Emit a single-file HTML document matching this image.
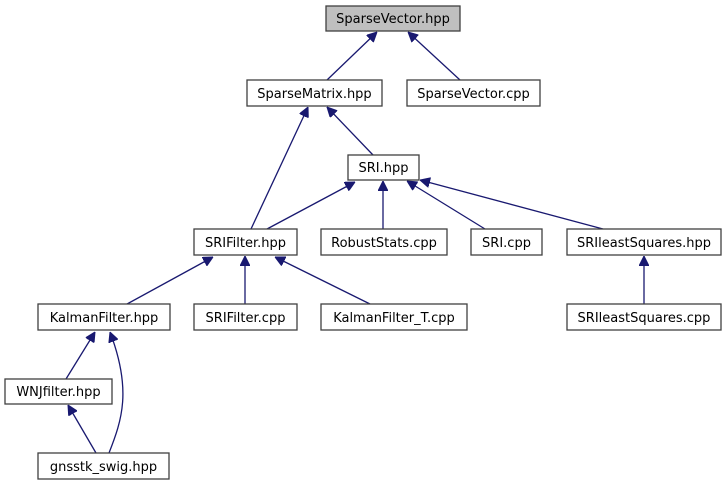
<!DOCTYPE html>
<html><head><meta charset="utf-8"><style>
html,body{margin:0;padding:0;background:#fff;}
svg{display:block;}
text{font-family:"DejaVu Sans","Liberation Sans",sans-serif;font-size:13px;fill:#000;}
</style></head><body>
<svg width="727" height="485" viewBox="0 0 727 485" xmlns="http://www.w3.org/2000/svg">
<defs>
<marker id="a" viewBox="0 0 10 10" refX="10" refY="5" markerWidth="10" markerHeight="10" markerUnits="userSpaceOnUse" orient="auto">
<path d="M0,0 L10,5 L0,10 z" fill="#191970" stroke="#191970"/>
</marker>
</defs>
<g stroke="#191970" stroke-width="1.3" fill="none" marker-end="url(#a)">
<line x1="327" y1="80" x2="377" y2="32"/>
<line x1="460" y1="80" x2="408" y2="32"/>
<line x1="251" y1="229" x2="308" y2="107"/>
<line x1="373" y1="155" x2="327" y2="107"/>
<line x1="267" y1="229" x2="355" y2="182"/>
<line x1="383" y1="229" x2="383" y2="181"/>
<line x1="485" y1="229" x2="407" y2="181"/>
<line x1="603" y1="229" x2="420" y2="180"/>
<line x1="127" y1="304" x2="213" y2="257"/>
<line x1="245" y1="304" x2="245" y2="256"/>
<line x1="370" y1="304" x2="275" y2="257"/>
<line x1="644" y1="304" x2="644" y2="256"/>
<line x1="66" y1="379" x2="95" y2="332"/>
<path d="M109,453 C122,420 132,390 110,332"/>
<line x1="96" y1="453" x2="68" y2="405"/>
</g>
<g stroke="#404040" stroke-width="1.3">
<rect x="326" y="6" width="134" height="25" fill="#bfbfbf"/>
<rect x="247" y="80" width="135" height="26" fill="#fff"/>
<rect x="407" y="80" width="133" height="26" fill="#fff"/>
<rect x="348" y="155" width="71" height="25" fill="#fff"/>
<rect x="194" y="229" width="103" height="26" fill="#fff"/>
<rect x="321" y="229" width="126" height="26" fill="#fff"/>
<rect x="471" y="229" width="71" height="26" fill="#fff"/>
<rect x="567" y="229" width="154" height="26" fill="#fff"/>
<rect x="38" y="304" width="132" height="26" fill="#fff"/>
<rect x="194" y="304" width="103" height="26" fill="#fff"/>
<rect x="321" y="304" width="146" height="26" fill="#fff"/>
<rect x="567" y="304" width="154" height="26" fill="#fff"/>
<rect x="5" y="379" width="107" height="25" fill="#fff"/>
<rect x="38" y="453" width="131" height="26" fill="#fff"/>
</g>
<g text-anchor="middle">
<text x="393" y="23">SparseVector.hpp</text>
<text x="314.5" y="98">SparseMatrix.hpp</text>
<text x="473.5" y="98">SparseVector.cpp</text>
<text x="383.5" y="172">SRI.hpp</text>
<text x="245.5" y="247">SRIFilter.hpp</text>
<text x="384" y="247">RobustStats.cpp</text>
<text x="506.5" y="247">SRI.cpp</text>
<text x="644" y="247">SRIleastSquares.hpp</text>
<text x="104" y="322">KalmanFilter.hpp</text>
<text x="245.5" y="322">SRIFilter.cpp</text>
<text x="394" y="322">KalmanFilter_T.cpp</text>
<text x="644" y="322">SRIleastSquares.cpp</text>
<text x="58.5" y="396">WNJfilter.hpp</text>
<text x="103.5" y="471">gnsstk_swig.hpp</text>
</g>
</svg>
</body></html>
